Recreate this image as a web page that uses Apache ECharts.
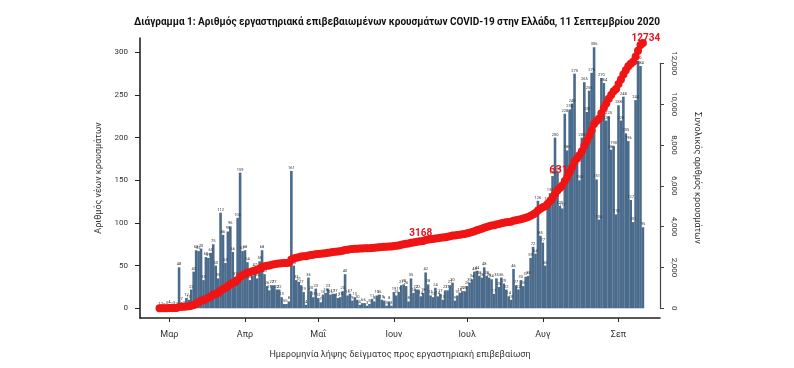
<!DOCTYPE html>
<html><head><meta charset="utf-8">
<script src="https://cdn.jsdelivr.net/npm/echarts@6/dist/echarts.min.js"></script>
<style>html,body{margin:0;padding:0;background:#fff}#c{width:794px;height:368px}</style>
</head><body><div id="c"></div>
<script>
// ---- data (daily new laboratory-confirmed cases by sampling date) ----
const startDate = '2020-02-26';
const feb = [1, 2, 0, 3];
const mar = [4, 2, 3, 2, 48, 7, 3, 12, 10, 22, 43, 68, 67, 70, 33, 60, 59, 65, 75, 50, 35, 112, 86, 53, 90, 96, 66, 37, 106, 159, 67];
const apr = [68, 54, 33, 38, 47, 35, 55, 68, 40, 26, 21, 27, 27, 22, 22, 13, 5, 5, 8, 161, 50, 33, 31, 27, 19, 4, 36, 20, 13, 23];
const may = [12, 7, 16, 18, 23, 16, 17, 17, 12, 13, 20, 40, 15, 17, 9, 13, 10, 4, 6, 6, 3, 5, 11, 8, 15, 16, 10, 9, 3, 8, 3];
const jun = [19, 15, 19, 27, 28, 26, 8, 35, 18, 22, 22, 14, 18, 42, 28, 15, 13, 24, 14, 17, 10, 21, 21, 27, 30, 9, 15, 18, 20, 20];
const jul = [26, 30, 34, 43, 44, 38, 36, 48, 38, 36, 34, 17, 35, 25, 36, 29, 22, 14, 10, 46, 27, 22, 33, 26, 37, 38, 59, 72, 64, 126, 85];
const aug = [77, 50, 124, 135, 155, 200, 160, 120, 117, 228, 185, 233, 240, 275, 170, 150, 200, 265, 230, 255, 276, 306, 151, 104, 270, 264, 220, 225, 186, 190, 110];
const sep = [238, 220, 248, 205, 196, 127, 101, 244, 290, 284, 95];
const newCases = [].concat(feb, mar, apr, may, jun, jul, aug, sep);

const monthStarts = ['2020-03-01', '2020-04-01', '2020-05-01', '2020-06-01', '2020-07-01', '2020-08-01', '2020-09-01'];
const monthLabels = ['Μαρ', 'Απρ', 'Μαΐ', 'Ιουν', 'Ιουλ', 'Αυγ', 'Σεπ'];
const leftTicks = [0, 50, 100, 150, 200, 250, 300];
const rightTicks = [0, 2000, 4000, 6000, 8000, 10000, 12000];
const annotationDates = ['2020-06-12', '2020-08-10', '2020-09-11'];
const annotationTexts = ['3168', '6311', '12734'];

const titleText = 'Διάγραμμα 1: Αριθμός εργαστηριακά επιβεβαιωμένων κρουσμάτων COVID-19 στην Ελλάδα, 11 Σεπτεμβρίου 2020';
const leftTitle = 'Αριθμός νέων κρουσμάτων';
const rightTitle = 'Συνολικός αριθμός κρουσμάτων';
const xTitle = 'Ημερομηνία λήψης δείγματος προς εργαστηριακή επιβεβαίωση';

// ---- helpers ----
const DAY = 86400000;
const origin = Date.UTC(2020, 2, 1);
function dayNum(s) { const p = s.split('-').map(Number); return Math.round((Date.UTC(p[0], p[1] - 1, p[2]) - origin) / DAY); }
const start = dayNum(startDate);
const monthDays = monthStarts.map(dayNum);
const barData = newCases.map((v, i) => [start + i, v]);
let run = 0;
const cumValues = newCases.map(v => (run += v));

const annLabelStyles = [
  { position: 'top', distance: 0, offset: [0, 1], fontSize: 10 },
  { position: 'top', distance: 6, offset: [-3, 5], fontSize: 11 },
  { position: 'top', distance: 0, offset: [3, 4], fontSize: 10 }
];
const annDays = annotationDates.map(dayNum);
const lineData = cumValues.map((v, i) => {
  const d = start + i;
  const k = annDays.indexOf(d);
  if (k < 0) return [d, v];
  const st = annLabelStyles[k];
  return {
    value: [d, v],
    label: {
      show: true, formatter: annotationTexts[k], position: st.position, distance: st.distance,
      offset: st.offset, color: '#e8131b', fontWeight: 'bold', fontSize: st.fontSize, fontFamily: 'Roboto'
    }
  };
});

const FONT = 'Roboto';
const chart = echarts.init(document.getElementById('c'), null, { renderer: 'canvas' });
chart.setOption({
  animation: false,
  backgroundColor: '#ffffff',
  textStyle: { fontFamily: FONT },
  title: {
    text: titleText, left: 'center', top: 12,
    textStyle: { fontSize: 10, fontWeight: 'bold', color: '#111', fontFamily: FONT }
  },
  grid: [
    { left: 140, right: 134, top: 38, bottom: 50, containLabel: false },
    { left: 140, right: 134, top: 63.3, bottom: 59.7, containLabel: false }
  ],
  xAxis: [
    {
      type: 'value', gridIndex: 0, min: -12, max: 201,
      splitLine: { show: false },
      axisLine: { show: true, onZero: false, lineStyle: { color: '#222', width: 1.6 } },
      axisTick: { show: true, customValues: monthDays, length: 4, lineStyle: { color: '#222' } },
      axisLabel: {
        customValues: monthDays, margin: 12, fontSize: 9, color: '#333',
        formatter: v => monthLabels[monthDays.indexOf(v)] || ''
      },
      name: xTitle, nameLocation: 'middle', nameGap: 32,
      nameTextStyle: { fontSize: 9, color: '#333' }
    },
    {
      type: 'value', gridIndex: 1, min: -12, max: 201, show: false,
      axisLine: { onZero: false }
    }
  ],
  yAxis: [
    {
      type: 'value', gridIndex: 0, min: -11.4, max: 316.8, position: 'left',
      splitLine: { show: false },
      axisLine: { show: true, onZero: false, lineStyle: { color: '#222', width: 1.6 } },
      axisTick: { show: true, customValues: leftTicks, length: 5, lineStyle: { color: '#222' } },
      axisLabel: { customValues: leftTicks, margin: 12, fontSize: 8, color: '#333' },
      name: leftTitle, nameLocation: 'middle', nameGap: 35, nameRotate: 90,
      nameTextStyle: { fontSize: 9, color: '#333' }
    },
    {
      type: 'value', gridIndex: 1, min: 0, max: 12000, position: 'right',
      splitLine: { show: false },
      axisLine: { show: true, onZero: false, lineStyle: { color: '#444', width: 1.2 } },
      axisTick: { show: true, customValues: rightTicks, length: 4, lineStyle: { color: '#444' } },
      axisLabel: { customValues: rightTicks, rotate: -90, margin: 10, fontSize: 8, color: '#333' }
    }
  ],
  graphic: [
    {
      type: 'text', x: 697, y: 178, rotation: -Math.PI / 2,
      style: { text: rightTitle, fontSize: 9, fill: '#333', fontFamily: FONT, textAlign: 'center', textVerticalAlign: 'middle' }
    }
  ],
  series: [
    {
      type: 'bar', xAxisIndex: 0, yAxisIndex: 0, data: barData, barWidth: 2.6,
      itemStyle: { color: '#4a6b8b' },
      label: { show: true, position: 'top', distance: 1, fontSize: 4, color: '#333', formatter: p => p.value[1] }
    },
    {
      type: 'line', xAxisIndex: 1, yAxisIndex: 1, data: lineData, clip: false,
      symbol: 'circle', symbolSize: 8, showAllSymbol: true,
      itemStyle: { color: '#f01414' },
      lineStyle: { color: '#f01414', width: 5 },
      z: 5
    }
  ]
});
</script>
</body></html>
